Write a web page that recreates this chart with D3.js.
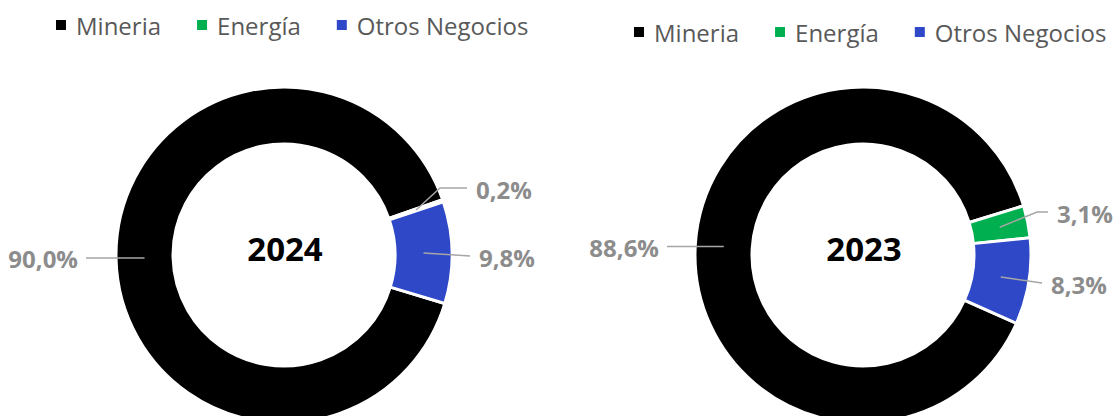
<!DOCTYPE html>
<html>
<head>
<meta charset="utf-8">
<script src="https://cdn.jsdelivr.net/npm/d3@7"></script>
<style>
  body { margin: 0; background: #fff; }
  svg { display: block; }
</style>
</head>
<body>
<script>
//////////////// Datos ////////////////////
var categories = ["Mineria", "Energía", "Otros Negocios"];
var colors = ["#000000", "#00b050", "#2f48c8"];
var years = ["2024", "2023"];
var values2024 = [90.0, 0.2, 9.8];
var values2023 = [88.6, 3.1, 8.3];
var labels2024 = ["90,0%", "0,2%", "9,8%"];
var labels2023 = ["88,6%", "3,1%", "8,3%"];

//////////////// Layout ////////////////////
var W = 1115, H = 416;
var rOuter = 168, rInner = 111;
var charts = [
  {year: years[0], values: values2024, labels: labels2024, cx: 284, cy: 255, start: 106.8,
   legendX: 56, legendY: 25,
   // leader line end points (and optional elbow) relative to the centre
   leaders: [{end: [-198, null]}, {elbow: [156, -67], end: [183, -67]}, {end: [186, 1]}]},
  {year: years[1], values: values2023, labels: labels2023, cx: 863, cy: 255, start: 114,
   legendX: 634, legendY: 32,
   leaders: [{end: [-196, null]}, {elbow: [174, -43], end: [185, -43]}, {end: [179, 28]}]}
];

var svg = d3.select("body").append("svg")
  .attr("width", W)
  .attr("height", H);

var arc = d3.arc().innerRadius(rInner).outerRadius(rOuter);
var mid = d3.arc().innerRadius((rInner + rOuter) / 2).outerRadius((rInner + rOuter) / 2);

charts.forEach(function(c) {
  var rad = c.start * Math.PI / 180;
  var pie = d3.pie().sort(null)
    .startAngle(rad)
    .endAngle(rad + 2 * Math.PI);
  var arcs = pie(c.values);

  var g = svg.append("g")
    .attr("transform", "translate(" + c.cx + "," + c.cy + ")");

  g.selectAll("path.slice")
    .data(arcs)
    .enter()
    .append("path")
    .attr("class", "slice")
    .attr("d", arc)
    .attr("fill", function(d, i) { return colors[i]; })
    .attr("stroke", "#fff")
    .attr("stroke-width", 3)
    .attr("stroke-linejoin", "miter");

  // year in the middle
  g.append("text")
    .attr("x", 1)
    .attr("y", -7)
    .attr("text-anchor", "middle")
    .attr("dominant-baseline", "central")
    .style("font-family", "'Open Sans', sans-serif")
    .style("font-weight", "bold")
    .style("font-size", "33px")
    .attr("fill", "#000")
    .text(c.year);

  // leader lines + labels
  arcs.forEach(function(d, i) {
    var p0 = mid.centroid(d);
    var L = c.leaders[i];
    var end = [L.end[0], L.end[1] === null ? p0[1] : L.end[1]];
    var pts = [p0];
    if (L.elbow) pts.push(L.elbow);
    pts.push(end);
    g.append("path")
      .attr("d", d3.line()(pts))
      .attr("fill", "none")
      .attr("stroke", "#a6a6a6")
      .attr("stroke-width", 1.5);
    var left = end[0] < 0;
    g.append("text")
      .attr("x", end[0] + (left ? -8 : 9))
      .attr("y", end[1] + 1)
      .attr("text-anchor", left ? "end" : "start")
      .attr("dominant-baseline", "central")
      .style("font-family", "'Open Sans', sans-serif")
      .style("font-weight", "bold")
      .style("font-size", "24px")
      .attr("fill", "#8c8c8c")
      .text(c.labels[i]);
  });

  // legend
  var lg = svg.append("g")
    .attr("transform", "translate(" + c.legendX + "," + c.legendY + ")");
  var x = 0;
  categories.forEach(function(name, i) {
    lg.append("rect")
      .attr("x", x)
      .attr("y", -5)
      .attr("width", 10)
      .attr("height", 10)
      .attr("fill", colors[i]);
    var t = lg.append("text")
      .attr("x", x + 20)
      .attr("y", 0)
      .attr("dominant-baseline", "central")
      .style("font-family", "'Open Sans', sans-serif")
      .style("font-size", "24px")
      .attr("fill", "#595959")
      .text(name);
    x += 20 + t.node().getComputedTextLength() + 36;
  });
});
</script>
</body>
</html>
